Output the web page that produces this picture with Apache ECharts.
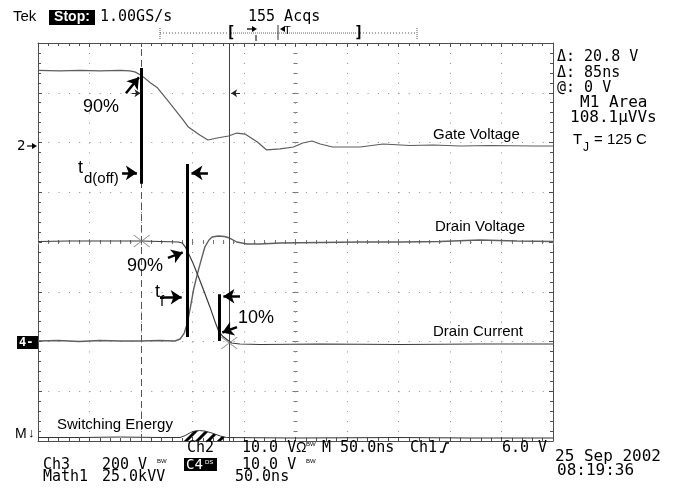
<!DOCTYPE html>
<html>
<head>
<meta charset="utf-8">
<script src="https://cdn.jsdelivr.net/npm/echarts@6/dist/echarts.min.js"></script>
<style>html,body{margin:0;padding:0;background:#fff}#c{width:678px;height:491px}</style>
</head>
<body>
<div id="c"></div>
<script>
// ---------------- data (time in ns, vertical position in screen divisions) ----------------
const timeRangeNs = [0, 500];
const nsPerDiv = 50;
const divRange = [-4, 4];

const gateVoltage = [[0,3.45],[21,3.44],[41,3.45],[60,3.44],[80,3.45],[89,3.44],[94,3.42],[101,3.34],[109,3.2],[116,3.1],[128,2.79],[141,2.45],[146,2.31],[157,2.15],[165,2.05],[174,2.09],[185,2.13],[193,2.19],[201,2.17],[213,2.01],[222,1.85],[235,1.87],[248,1.91],[257,1.99],[266,2.03],[274,1.97],[286,1.91],[313,1.91],[335,1.97],[361,1.94],[384,1.95],[410,1.93],[439,1.94],[481,1.93],[500,1.93]];
const drainVoltage = [[0,-1.99],[20,-1.98],[40,-2.0],[60,-1.98],[80,-1.99],[99,-1.99],[118,-1.98],[133,-1.99],[138,-1.95],[142,-1.83],[145,-1.63],[148,-1.31],[151,-0.96],[155,-0.62],[159,-0.32],[162,-0.1],[166,0.04],[169,0.1],[175,0.12],[181,0.11],[186,0.08],[193,0.0],[203,-0.04],[216,-0.04],[235,-0.02],[274,-0.01],[312,0.0],[352,0.0],[390,0.01],[429,0.04],[465,0.02],[500,0.01]];
const drainCurrent = [[0,0.01],[30,0.02],[60,0.02],[101,0.02],[136,0],[140,-0.02],[143,-0.1],[145,-0.18],[150,-0.4],[155,-0.66],[161,-0.98],[167,-1.31],[172,-1.61],[175,-1.77],[179,-1.89],[184,-1.97],[188,-2.03],[196,-2.05],[216,-2.06],[274,-2.05],[352,-2.06],[429,-2.05],[500,-2.05]];
const switchingEnergy = [[0,-3.93],[40,-3.93],[80,-3.92],[120,-3.93],[138,-3.93],[143,-3.89],[148,-3.83],[152,-3.8],[157,-3.79],[162,-3.8],[169,-3.84],[177,-3.9],[183,-3.93],[250,-3.94],[350,-3.93],[420,-3.94],[500,-3.94]];

const cursorTimes = [100.7, 185.7];
const cursorMarks = [[100.7,0.02],[185.7,-2.03]];
const timingBars = [[[100.5,3.5],[100.5,1.17]],[[144.7,1.57],[144.7,-1.91]],[[175.7,-1.05],[175.7,-1.99]]];
const calloutArrows = [[[85.4,2.99],[98,3.31]],[[81.6,1.39],[96,1.39]],[[165,1.39],[149,1.39]],[[126.2,-0.32],[140.5,-0.21]],[[118.4,-1.11],[139.5,-1.11]],[[196.1,-1.09],[180,-1.09]],[[193.2,-1.71],[179,-1.82]]];
const cursorFlags = [[[91.3,2.99],[99.5,2.99]],[[196.1,2.99],[187.5,2.99]]];

// ---------------- styling ----------------
const BORDER = '#4d4d4d', DOT = '#8a8a8a';
const MONO = "'DejaVu Sans Mono', monospace";
const SANS = "'Liberation Sans', Arial, sans-serif";

function makeHatch(){
  const s = 11, c = document.createElement('canvas'); c.width = s; c.height = s;
  const g = c.getContext('2d'); g.strokeStyle = '#000'; g.lineWidth = 3;
  g.beginPath();
  for (let k = -1; k <= 1; k++) { g.moveTo(k*s - 1, s + 1); g.lineTo(k*s + s + 1, -1); }
  g.stroke(); return c;
}
const energyBump = switchingEnergy.filter(p => p[0] >= 138 && p[0] <= 183);

function xAx(pos, opts){
  return Object.assign({type:'value', min:timeRangeNs[0], max:timeRangeNs[1], interval:nsPerDiv, position:pos,
    axisLine:{onZero:false, lineStyle:{color:BORDER, width:1}},
    axisTick:{inside:true, length:4, lineStyle:{color:BORDER}},
    minorTick:{show:true, splitNumber:5, length:3, lineStyle:{color:BORDER}},
    axisLabel:{show:false}, splitLine:{show:false}, axisPointer:{show:false}}, opts||{});
}
function yAx(pos, opts){
  return Object.assign({type:'value', min:divRange[0], max:divRange[1], interval:1, position:pos,
    axisLine:{onZero:false, lineStyle:{color:BORDER, width:1}},
    axisTick:{inside:true, length:4, lineStyle:{color:BORDER}},
    minorTick:{show:true, splitNumber:5, length:3, lineStyle:{color:BORDER}},
    axisLabel:{show:false}, splitLine:{show:false}, axisPointer:{show:false}}, opts||{});
}
const centerTick = (inside) => ({
  axisLine:{show:false, onZero:false},
  axisTick:{inside:inside, length:3, lineStyle:{color:'#777'}},
  minorTick:{show:true, splitNumber:5, length:2, lineStyle:{color:'#777'}}
});

// ---------------- graphic helpers ----------------
function txt(x, y, s, font, extra){
  return {type:'text', x:x, y:y, silent:true, z:100,
    style:Object.assign({text:s, font:font, fill:'#000', align:'left', textAlign:'left', verticalAlign:'middle', textVerticalAlign:'middle'}, extra||{})};
}
function rect(x,y,w,h,fill){ return {type:'rect', silent:true, z:99, shape:{x:x,y:y,width:w,height:h}, style:{fill:fill}}; }
function seg(x1,y1,x2,y2,stroke,w,dash){ return {type:'line', silent:true, z:100, shape:{x1:x1,y1:y1,x2:x2,y2:y2}, style:{stroke:stroke, lineWidth:w||1, lineDash:dash||null}}; }
function tri(pts,fill){ return {type:'polygon', silent:true, z:100, shape:{points:pts}, style:{fill:fill||'#000'}}; }

const f15m = '15px ' + MONO, f16m = '16px ' + MONO, f15s = '15px ' + SANS, f18s = '18px ' + SANS;

const graphics = [
  // header
  txt(13,17,'Tek',f15s),
  rect(49,10,46,15,'#000'),
  txt(72,17.5,'Stop:','bold 14px ' + SANS,{fill:'#fff', align:'center', textAlign:'center'}),
  txt(100,17,'1.00GS/s',f15m),
  txt(248,17,'155 Acqs',f15m),
  // record bar
  seg(160,33,228,33,'#555',1,[1,2]),
  seg(231,33,356,33,'#666',1,[1,1]),
  seg(360,33,417,33,'#555',1,[1,2]),
  seg(160,28,160,39,'#555',1,[1,1]),
  seg(417,28,417,39,'#555',1,[1,1]),
  txt(226,33,'[','bold 16px ' + MONO),
  txt(354,33,']','bold 16px ' + MONO),
  seg(247,29,253,29,'#000',1.3), tri([[257,29],[252,26],[252,32]]),
  seg(256,35,256,41,'#000',1),
  seg(278,25,278,40,'#333',1),
  tri([[280,29],[285,26],[285,32]]),
  txt(284,31,'T','11px ' + SANS),
  // left markers
  txt(17,146,'2','14px ' + MONO),
  seg(27,146,33,146,'#000',1.2), tri([[37,146],[32,143],[32,149]]),
  rect(17,336,21,13,'#000'),
  txt(19,342.5,'4-','bold 12px ' + MONO,{fill:'#fff'}),
  txt(15,434,'M','14px ' + SANS),
  txt(28,433,'↓','13px ' + SANS),
  // right panel
  txt(557,57,'Δ: 20.8 V',f15m),
  txt(557,73,'Δ: 85ns',f15m),
  txt(557,88,'@: 0 V',f15m),
  txt(580,103,'M1 Area',f16m),
  txt(570,118,'108.1µVVs',f16m),
  txt(573,140,'T',f15s),
  txt(583,148,'J','12px ' + SANS),
  txt(594,140,'= 125 C',f15s),
  // trace labels
  txt(433,135,'Gate Voltage',f15s),
  txt(435,227,'Drain Voltage',f15s),
  txt(433,332,'Drain Current',f15s),
  txt(57,425,'Switching Energy',f15s),
  // timing annotations
  txt(83,107,'90%',f18s),
  txt(78,168,'t',f18s),
  txt(84,179,'d(off)',f15s),
  txt(127,266,'90%',f18s),
  txt(155,292,'t',f18s),
  txt(160,302,'f',f15s),
  txt(238,318,'10%',f18s),
  // bottom readout
  txt(187,448,'Ch2',f15m),
  txt(242,448,'10.0 V',f15m),
  txt(296,448,'Ω','14px ' + SANS),
  txt(306,444,'BW','6px ' + SANS),
  txt(322,448,'M 50.0ns',f15m),
  txt(410,448,'Ch1',f15m),
  {type:'polyline', silent:true, z:100, shape:{points:[[440,452],[443,452],[446,443],[449,443]]}, style:{stroke:'#000', lineWidth:1.5, fill:null}},
  txt(502,448,'6.0 V',f15m),
  txt(43,465,'Ch3',f15m),
  txt(102,465,'200 V',f15m),
  txt(157,461,'BW','6px ' + SANS),
  rect(184,458,33,13,'#000'),
  txt(186,465,'C4','14px ' + MONO,{fill:'#fff'}),
  txt(205,462,'DS','6px ' + SANS,{fill:'#fff'}),
  txt(242,465,'10.0 V',f15m),
  txt(306,461,'BW','6px ' + SANS),
  txt(43,477,'Math1',f15m),
  txt(102,477,'25.0kVV',f15m),
  txt(235,477,'50.0ns',f15m),
  txt(555,457,'25 Sep 2002',f16m),
  txt(557,471,'08:19:36',f16m)
];

const chart = echarts.init(document.getElementById('c'), null, {renderer:'canvas'});
chart.setOption({
  animation:false,
  backgroundColor:'#fff',
  grid:{left:38, top:43, width:515, height:398, containLabel:false},
  xAxis:[
    xAx('bottom',{splitLine:{show:true, lineStyle:{color:DOT, width:1, type:[1,8.95]}}}),
    xAx('top'),
    Object.assign(xAx('bottom',{offset:-199}), centerTick(true)),
    Object.assign(xAx('bottom',{offset:-199}), centerTick(false))
  ],
  yAxis:[
    yAx('left',{splitLine:{show:true, lineStyle:{color:DOT, width:1, type:[1,9.3]}}}),
    yAx('right'),
    Object.assign(yAx('left',{offset:-257.5}), centerTick(true)),
    Object.assign(yAx('left',{offset:-257.5}), centerTick(false))
  ],
  series:[
    {type:'line', name:'Gate Voltage', data:gateVoltage, showSymbol:false, lineStyle:{color:'#5c5c5c', width:1.2}, z:5},
    {type:'line', name:'Drain Voltage', data:drainVoltage, showSymbol:false, lineStyle:{color:'#5f5f5f', width:1.4}, z:5},
    {type:'line', name:'Drain Current', data:drainCurrent, showSymbol:false, lineStyle:{color:'#3a3a3a', width:1.2}, z:5},
    {type:'line', name:'Switching Energy', data:switchingEnergy, showSymbol:false, lineStyle:{color:'#333', width:1}, z:5},
    {type:'line', name:'Energy Area', data:energyBump, showSymbol:false, lineStyle:{width:0},
      areaStyle:{color:{image:makeHatch(), repeat:'repeat'}, origin:'start', opacity:1}, z:4},
    {type:'lines', coordinateSystem:'cartesian2d', z:6, silent:true,
      data:[{coords:[[cursorTimes[0],divRange[0]],[cursorTimes[0],divRange[1]]]}],
      lineStyle:{color:'#555', width:1, type:[7,4], opacity:1}},
    {type:'lines', coordinateSystem:'cartesian2d', z:6, silent:true,
      data:[{coords:[[cursorTimes[1],divRange[0]],[cursorTimes[1],divRange[1]]]}],
      lineStyle:{color:'#444', width:1, opacity:1}},
    {type:'scatter', data:cursorMarks, symbol:'path://M0,0L16,12M16,0L0,12', symbolSize:[16,12],
      itemStyle:{color:'rgba(0,0,0,0)', borderColor:'#777', borderWidth:1}, z:7, silent:true},
    {type:'lines', coordinateSystem:'cartesian2d', z:8, silent:true,
      data:timingBars.map(c => ({coords:c})), lineStyle:{color:'#000', width:3, opacity:1}},
    {type:'lines', coordinateSystem:'cartesian2d', z:8, silent:true, symbol:['none','arrow'], symbolSize:11,
      data:calloutArrows.map(c => ({coords:c})), lineStyle:{color:'#000', width:2.5, opacity:1}, itemStyle:{color:'#000'}},
    {type:'lines', coordinateSystem:'cartesian2d', z:8, silent:true, symbol:['none','arrow'], symbolSize:6,
      data:cursorFlags.map(c => ({coords:c})), lineStyle:{color:'#222', width:1, opacity:1}}
  ],
  graphic:graphics
});
</script>
</body>
</html>
